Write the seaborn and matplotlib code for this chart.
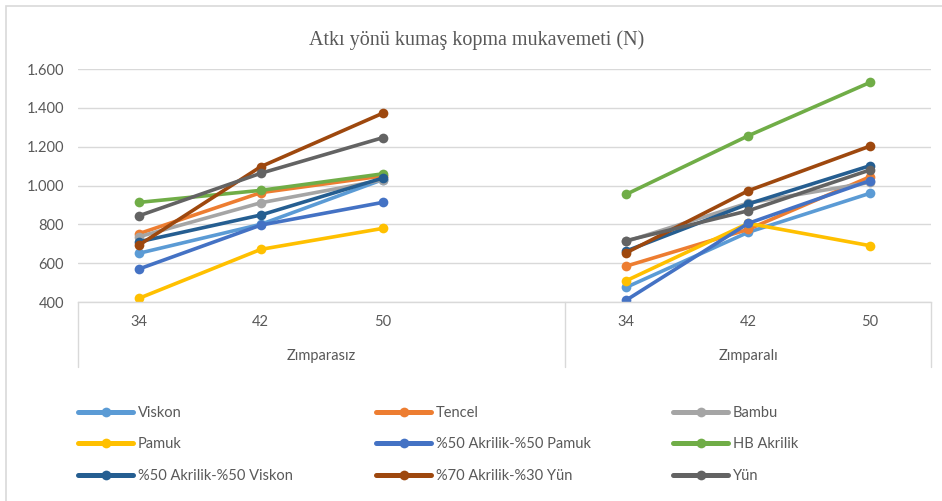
import matplotlib
matplotlib.use("Agg")
import matplotlib.pyplot as plt
import matplotlib.transforms as mtransforms
from matplotlib.lines import Line2D
from matplotlib.patches import Rectangle
from matplotlib.ticker import FuncFormatter
import seaborn as sns
import pandas as pd

# ---- data ----
categories = ["34", "42", "50"]
groups = ["Zımparasız", "Zımparalı"]
series_names = ["Viskon", "Tencel", "Bambu", "Pamuk", "%50 Akrilik-%50 Pamuk",
                "HB Akrilik", "%50 Akrilik-%50 Viskon", "%70 Akrilik-%30 Yün", "Yün"]
viskon = [651, 800, 1030, 476, 759, 960]
tencel = [752, 963, 1049, 585, 774, 1045]
bambu = [736, 911, 1028, 712, 910, 1016]
pamuk = [419, 671, 779, 510, 805, 690]
akr_pamuk = [570, 796, 913, 410, 805, 1025]
hb_akrilik = [913, 975, 1060, 955, 1256, 1531]
akr_viskon = [710, 848, 1038, 663, 905, 1102]
akr_yun = [693, 1097, 1372, 654, 973, 1203]
yun = [844, 1063, 1246, 716, 870, 1080]
series_values = [viskon, tencel, bambu, pamuk, akr_pamuk, hb_akrilik, akr_viskon, akr_yun, yun]
colors = ["#5B9BD5", "#ED7D31", "#A5A5A5", "#FFC000", "#4472C4",
          "#70AD47", "#255E91", "#9E480E", "#636363"]
title = "Atkı yönü kumaş kopma mukavemeti (N)"
y_ticks = [400, 600, 800, 1000, 1200, 1400, 1600]

rows = []
for name, vals in zip(series_names, series_values):
    for gi, g in enumerate(groups):
        for ci, c in enumerate(categories):
            rows.append({"series": name, "group": g, "cat": c,
                         "pos": gi * (len(categories) + 1) + ci,
                         "val": vals[gi * len(categories) + ci]})
df = pd.DataFrame(rows)

sns.set_theme(style="white")
plt.rcParams["font.family"] = ["Lato", "DejaVu Sans"]
TXT = "#595959"
GRID = "#D9D9D9"

W, H = 942, 501
fig = plt.figure(figsize=(W / 100, H / 100), dpi=100)
fig.patch.set_facecolor("white")
x0, x1, yt, yb = 78, 931, 69, 302
ax = fig.add_axes([x0 / W, 1 - yb / H, (x1 - x0) / W, (yb - yt) / H])

palette = dict(zip(series_names, colors))
sns.lineplot(data=df, x="pos", y="val", hue="series", hue_order=series_names,
             units="group", estimator=None, sort=False, palette=palette,
             marker="o", markersize=7, markeredgewidth=0, linewidth=2.6,
             legend=False, ax=ax)

n_slots = 2 * len(categories) + 1
ax.set_xlim(-0.5, n_slots - 0.5)
ax.set_ylim(min(y_ticks), max(y_ticks))
ax.set_yticks(y_ticks)
ax.yaxis.set_major_formatter(FuncFormatter(lambda v, p: f"{int(v):,}".replace(",", ".")))
xt_pos = sorted(df["pos"].unique())
ax.set_xticks(xt_pos, [categories[int(p) % (len(categories) + 1)] for p in xt_pos])
ax.set_xlabel("")
ax.set_ylabel("")
ax.tick_params(axis="both", length=0, colors=TXT, labelsize=10.5)
ax.tick_params(axis="y", pad=10)
ax.tick_params(axis="x", pad=9)
ax.grid(axis="y", color=GRID, linewidth=1)
ax.set_axisbelow(True)
for s in ["top", "right", "left"]:
    ax.spines[s].set_visible(False)
ax.spines["bottom"].set_color(GRID)
ax.spines["bottom"].set_linewidth(1)

# group dividers and labels
ax_h = yb - yt
trans = mtransforms.blended_transform_factory(ax.transData, ax.transAxes)
for xv in [-0.5, len(categories) + 0.5, n_slots - 0.5]:
    ax.plot([xv, xv], [0, -(367 - yb) / ax_h], transform=trans, color=GRID,
            linewidth=1, clip_on=False)
centers = [(len(categories)) / 2, len(categories) + 1 + (len(categories) - 1) / 2]
for g, cx in zip(groups, centers):
    ax.text(cx, -(356 - yb) / ax_h, g, transform=trans, ha="center", va="center",
            color=TXT, fontsize=10.5)

fig.text(477 / W, 1 - 40 / H, title, ha="center", va="center", color=TXT,
         fontsize=14.5, family="Liberation Serif")

# chart border
fig.add_artist(Rectangle((6 / W, -0.2), 2, 1 - 5.5 / H + 0.2, transform=fig.transFigure,
                         fill=False, edgecolor=GRID, linewidth=1.2))

# legend: 3 equal columns, row-wise order
col_x = [78, 376, 673]
for c in range(3):
    idx = [c, c + 3, c + 6]
    handles = [Line2D([], [], color=colors[i], marker="o", markersize=7,
                      markeredgewidth=0, linewidth=3.6) for i in idx]
    labels = [series_names[i] for i in idx]
    fig.legend(handles, labels, loc="upper left",
               bbox_to_anchor=(col_x[c] / W, 1 - 406 / H), frameon=False,
               borderpad=0, borderaxespad=0, handlelength=3.8, handletextpad=0.3,
               labelspacing=1.2, fontsize=10.5, labelcolor=TXT)

fig.savefig("out.png", dpi=100, facecolor="white")
